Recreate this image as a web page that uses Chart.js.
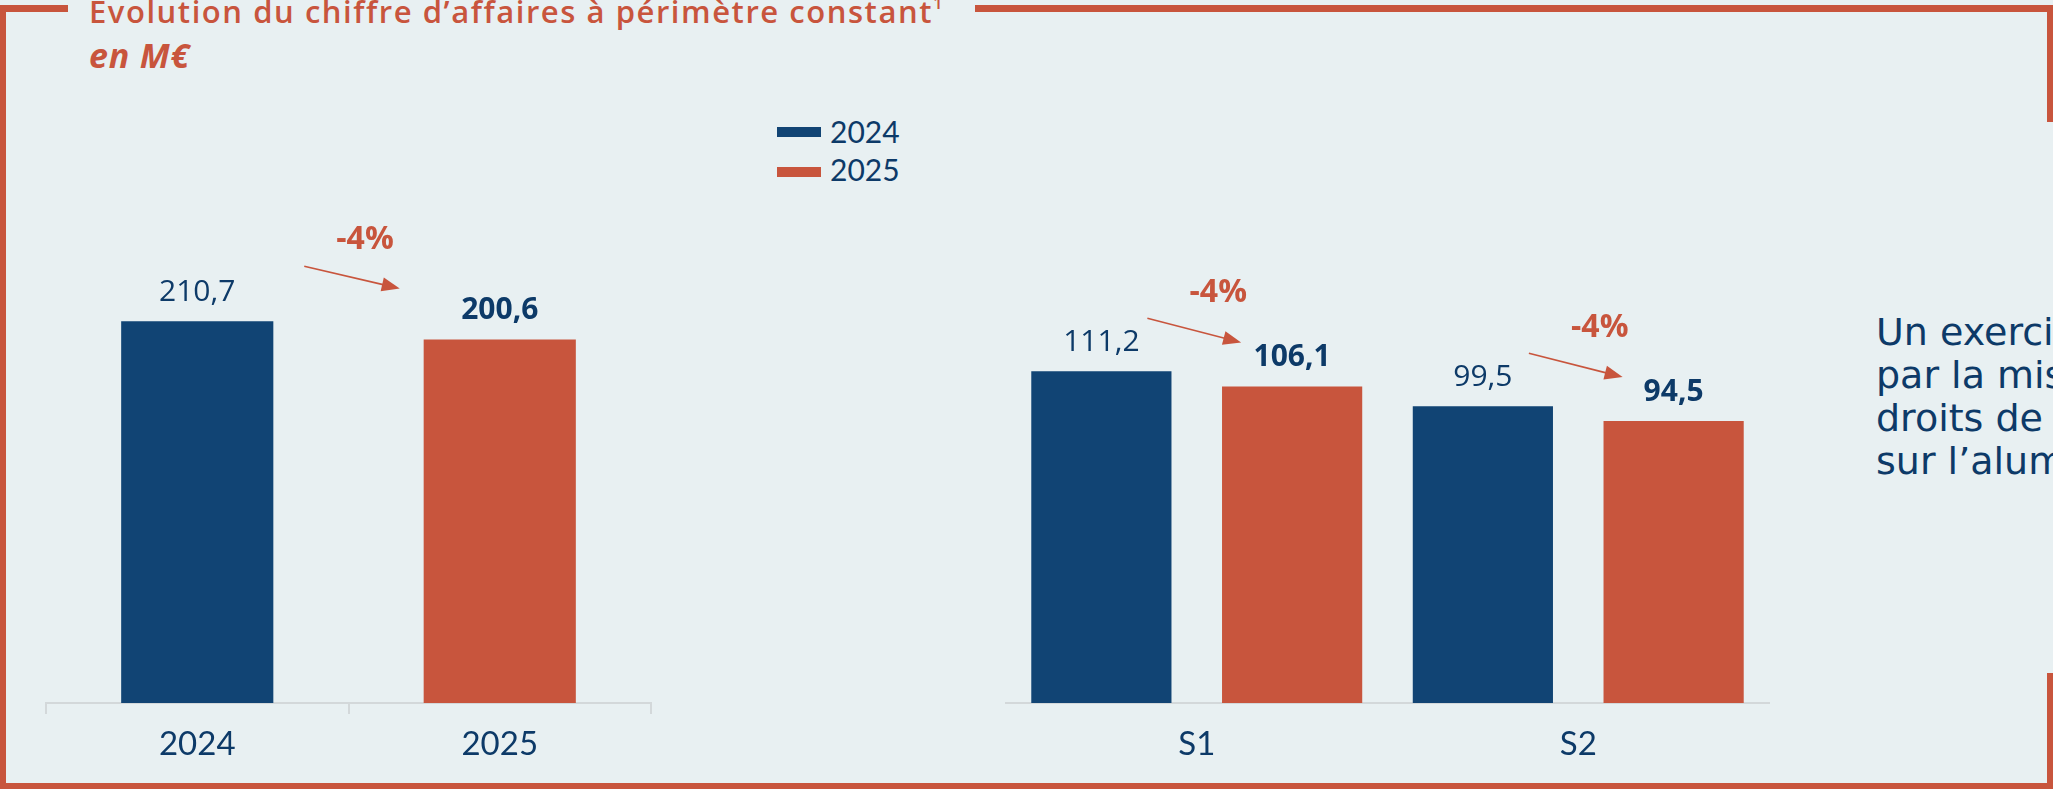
<!DOCTYPE html>
<html>
<head>
<meta charset="utf-8">
<script src="https://cdn.jsdelivr.net/npm/chart.js@4.4.1/dist/chart.umd.min.js"></script>
<style>
html,body{margin:0;padding:0}
body{width:2053px;height:789px;overflow:hidden;background:#e8f0f2;position:relative}
.bd{position:absolute;background:#c8553d}
.txt{position:absolute;white-space:nowrap}
#title{left:89px;top:-8px;color:#c8553d;font:600 31px 'Open Sans';line-height:38px;letter-spacing:1.55px}
#title sup{font-size:17px;font-weight:600;vertical-align:baseline;position:relative;top:-14px;letter-spacing:0}
#title i{font-weight:700;font-size:34px;letter-spacing:0.8px}
.leg{position:absolute;left:777px;width:44px;height:10px}
.legtxt{left:830px;color:#0d3a68;font:400 30px Lato;line-height:36px}
#note{left:1876px;top:311px;color:#0d3a68;font:400 38px 'DejaVu Sans';line-height:43px}
canvas{position:absolute;top:0}
</style>
</head>
<body>
<div class="bd" style="left:0;top:5px;width:68px;height:7px"></div>
<div class="bd" style="left:975px;top:5px;width:1078px;height:7px"></div>
<div class="bd" style="left:0;top:5px;width:6px;height:784px"></div>
<div class="bd" style="left:0;top:783px;width:2053px;height:6px"></div>
<div class="bd" style="left:2047px;top:5px;width:6px;height:117px"></div>
<div class="bd" style="left:2047px;top:673px;width:6px;height:116px"></div>

<div id="title" class="txt">Evolution du chiffre d’affaires à périmètre constant<sup>1</sup><br><i>en M€</i></div>

<div class="leg" style="top:127px;background:#114474"></div>
<div class="txt legtxt" style="top:113px">2024</div>
<div class="leg" style="top:167px;background:#c8553d"></div>
<div class="txt legtxt" style="top:151px">2025</div>

<div id="note" class="txt">Un exercice marqué<br>par la mise en place<br>droits de douane<br>sur l’aluminium</div>

<canvas id="annual" width="617" height="789" style="left:40px"></canvas>
<canvas id="half" width="776" height="789" style="left:1000px"></canvas>

<script>
var seriesNames = ['2024', '2025']
var annualCategories = ['2024', '2025']
var annual2024 = [210.7, null]
var annual2025 = [null, 200.6]
var annualChange = ['-4%']

var halfCategories = ['S1', 'S2']
var half2024 = [111.2, 99.5]
var half2025 = [106.1, 94.5]
var halfChange = ['-4%', '-4%']

var blue = '#114474', orange = '#c8553d', navy = '#0d3a68', axisGrey = '#d3d8da'

// value labels above the bars + the little -x% arrows between the two years
var barLabels = {
	id: 'barLabels',
	afterDatasetsDraw: function(chart, args, opts) {
		var ctx = chart.ctx
		var bars = [[], []]
		chart.data.datasets.forEach(function(ds, di) {
			chart.getDatasetMeta(di).data.forEach(function(bar, i) {
				var v = ds.data[i]
				if (v == null) return
				bars[di].push(bar)
				ctx.save()
				ctx.font = (di ? '700' : '400') + ' 30px "Open Sans"'
				ctx.fillStyle = navy
				ctx.textAlign = 'center'
				ctx.textBaseline = 'middle'
				ctx.fillText(v.toFixed(1).replace('.', ','), bar.x, bar.y - 29)
				ctx.restore()
			})
		})
		opts.changes.forEach(function(txt, k) {
			var a = bars[0][k], b = bars[1][k]
			if (!a || !b) return
			var x1 = a.x + opts.from[0], y1 = a.y - opts.from[1]
			var x2 = b.x - opts.to[0], y2 = b.y - opts.to[1]
			var ang = Math.atan2(y2 - y1, x2 - x1)
			ctx.save()
			ctx.strokeStyle = orange
			ctx.fillStyle = orange
			ctx.lineWidth = 1.6
			ctx.beginPath()
			ctx.moveTo(x1, y1)
			ctx.lineTo(x2 - 16 * Math.cos(ang), y2 - 16 * Math.sin(ang))
			ctx.stroke()
			ctx.beginPath()
			ctx.moveTo(x2, y2)
			ctx.lineTo(x2 - 18 * Math.cos(ang) + 7 * Math.sin(ang), y2 - 18 * Math.sin(ang) - 7 * Math.cos(ang))
			ctx.lineTo(x2 - 18 * Math.cos(ang) - 7 * Math.sin(ang), y2 - 18 * Math.sin(ang) + 7 * Math.cos(ang))
			ctx.closePath()
			ctx.fill()
			ctx.font = '700 32px "Open Sans"'
			ctx.textAlign = 'center'
			ctx.textBaseline = 'middle'
			ctx.fillText(txt, (x1 + x2) / 2 + opts.text[0], (y1 + y2) / 2 - opts.text[1])
			ctx.restore()
		})
	}
}

function xAxis(tickColor) {
	return {
		grid: {offset: true, drawOnChartArea: false, drawTicks: true, tickLength: 11, lineWidth: 2, color: tickColor},
		border: {display: true, color: axisGrey, width: 2},
		ticks: {color: navy, font: {family: 'Lato', size: 33}, padding: 11},
		afterFit: function(scale) { scale.height = 86 }
	}
}

Chart.defaults.animation = false
Chart.defaults.responsive = false
Chart.defaults.devicePixelRatio = 1

new Chart(document.getElementById('annual'), {
	type: 'bar',
	data: {
		labels: annualCategories,
		datasets: [
			{label: seriesNames[0], data: annual2024, backgroundColor: blue, skipNull: true},
			{label: seriesNames[1], data: annual2025, backgroundColor: orange, skipNull: true}
		]
	},
	options: {
		layout: {padding: {top: 250, left: 6, right: 6, bottom: 0}},
		categoryPercentage: 1,
		barPercentage: 0.503,
		plugins: {
			legend: {display: false},
			tooltip: {enabled: false},
			barLabels: {changes: annualChange, from: [107, 55], to: [100, 51], text: [13, 37]}
		},
		scales: {
			x: xAxis(axisGrey),
			y: {display: false, min: 0, max: 250}
		}
	},
	plugins: [barLabels]
})

new Chart(document.getElementById('half'), {
	type: 'bar',
	data: {
		labels: halfCategories,
		datasets: [
			{label: seriesNames[0], data: half2024, backgroundColor: blue},
			{label: seriesNames[1], data: half2025, backgroundColor: orange}
		]
	},
	options: {
		layout: {padding: {top: 345, left: 6, right: 7, bottom: 0}},
		categoryPercentage: 1,
		barPercentage: 0.735,
		plugins: {
			legend: {display: false},
			tooltip: {enabled: false},
			barLabels: {changes: halfChange, from: [46, 53], to: [51, 44], text: [24, 37]}
		},
		scales: {
			x: xAxis('rgba(0,0,0,0)'),
			y: {display: false, min: 0, max: 120}
		}
	},
	plugins: [barLabels]
})
</script>
</body>
</html>
